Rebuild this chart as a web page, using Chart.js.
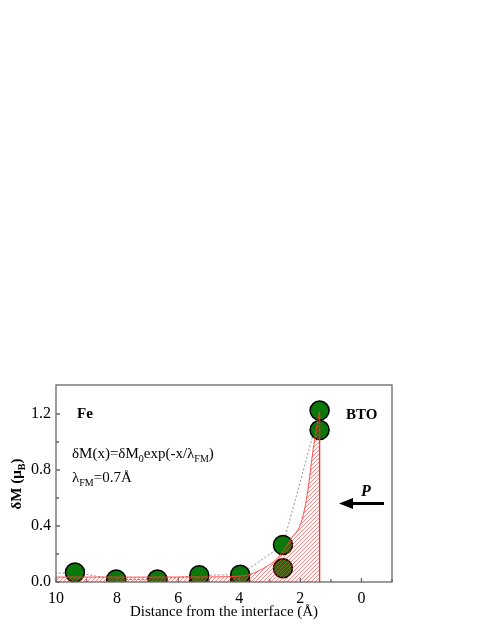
<!DOCTYPE html>
<html>
<head>
<meta charset="utf-8">
<script src="https://cdn.jsdelivr.net/npm/chart.js@4.4.1/dist/chart.umd.min.js"></script>
<style>
  html, body { margin: 0; padding: 0; background: #fff; }
  #wrap { position: relative; width: 491px; height: 635px; }
</style>
</head>
<body>
<div id="wrap"><canvas id="dmChart" width="491" height="635"></canvas></div>
<script>
// data (distance in Angstrom, dM in muB)
const upperDist = [10.7, 9.38, 8.03, 6.68, 5.31, 3.97, 2.57, 1.37];
const upperDM   = [0.056, 0.068, 0.018, 0.018, 0.048, 0.052, 0.264, 1.224];
const lowerDist = [5.31, 3.97, 2.57, 1.37];
const lowerDM   = [0.013, 0.012, 0.098, 1.086];
// red exponential fit (hatched area), listed left to right on the page
const fitDist = [10.5, 7.0, 5.0, 4.0, 3.64, 3.2, 3.0, 2.75, 2.5, 2.27, 2.0, 1.8, 1.585, 1.48, 1.37];
const fitDM   = [0.035, 0.035, 0.036, 0.042, 0.055, 0.098, 0.125, 0.17, 0.24, 0.32, 0.41, 0.59, 0.94, 1.09, 1.216];
const edgeDist = [1.37, 1.37];
const edgeDM   = [0, 1.216];
const xTicks = [10, 8, 6, 4, 2, 0];
const yTicks = [0, 0.4, 0.8, 1.2];

function pts(xs, ys) {
    return xs.map(function(x, i) { return { x: x, y: ys[i] }; });
}

const serif = "'Liberation Serif', 'Times New Roman', serif";

function drawSub(ctx, parts, x, y, size, weight) {
    // parts: [text, isSub]
    parts.forEach(function(p) {
        const sub = p[1];
        ctx.font = weight + ' ' + (sub ? Math.round(size * 0.65) : size) + 'px ' + serif;
        ctx.fillText(p[0], x, y + (sub ? size * 0.28 : 0));
        x += ctx.measureText(p[0]).width;
    });
    return x;
}

// hatch the area under the fit curve, on top of the circles
const hatchPlugin = {
    id: 'hatch',
    afterDatasetsDraw: function(chart) {
        const ctx = chart.ctx;
        const a = chart.chartArea;
        const meta = chart.getDatasetMeta(0);
        const line = meta.dataset;
        const p = meta.data;
        const y0 = chart.scales.y.getPixelForValue(0);
        ctx.save();
        ctx.beginPath();
        ctx.rect(a.left, a.top, a.right - a.left, a.bottom - a.top);
        ctx.clip();
        ctx.beginPath();
        line.path(ctx);
        ctx.lineTo(p[p.length - 1].x, y0);
        ctx.lineTo(p[0].x, y0);
        ctx.closePath();
        ctx.clip();
        ctx.strokeStyle = 'rgba(238,70,70,0.8)';
        ctx.lineWidth = 0.8;
        ctx.beginPath();
        const h = a.bottom - a.top;
        for (let x = a.left - h; x < a.right + 4; x += 4) {
            ctx.moveTo(x, a.bottom);
            ctx.lineTo(x + h, a.top);
        }
        ctx.stroke();
        ctx.restore();
    }
};

const decorPlugin = {
    id: 'decor',
    afterDraw: function(chart) {
        const ctx = chart.ctx;
        const a = chart.chartArea;
        const xs = chart.scales.x, ys = chart.scales.y;
        ctx.save();
        // frame
        ctx.strokeStyle = '#666';
        ctx.lineWidth = 1.3;
        ctx.strokeRect(a.left, a.top, a.right - a.left, a.bottom - a.top);
        // inward ticks
        ctx.beginPath();
        for (let v = -1; v <= 10; v++) {
            const px = xs.getPixelForValue(v);
            ctx.moveTo(px, a.bottom);
            ctx.lineTo(px, a.bottom - (v % 2 === 0 ? 4 : 3));
        }
        for (let k = 0; k <= 6; k++) {
            const py = ys.getPixelForValue(k * 0.2);
            ctx.moveTo(a.left, py);
            ctx.lineTo(a.left + (k % 2 === 0 ? 4 : 3), py);
        }
        ctx.stroke();

        ctx.fillStyle = '#000';
        ctx.textBaseline = 'alphabetic';
        ctx.textAlign = 'left';
        ctx.font = 'bold 15px ' + serif;
        ctx.fillText('Fe', 77, 418);
        ctx.fillText('BTO', 346, 419);

        drawSub(ctx, [['\u03b4M(x)=\u03b4M', false], ['0', true], ['exp(-x/\u03bb', false], ['FM', true], [')', false]], 72, 458, 15, 'normal');
        drawSub(ctx, [['\u03bb', false], ['FM', true], ['=0.7\u00c5', false]], 72, 482, 15, 'normal');

        // P arrow
        ctx.font = 'italic bold 16px ' + serif;
        ctx.fillText('P', 361, 496);
        ctx.strokeStyle = '#000';
        ctx.lineWidth = 3;
        ctx.beginPath();
        ctx.moveTo(384, 503.5);
        ctx.lineTo(350, 503.5);
        ctx.stroke();
        ctx.beginPath();
        ctx.moveTo(339, 503.5);
        ctx.lineTo(353, 498);
        ctx.lineTo(353, 509);
        ctx.closePath();
        ctx.fill();

        // axis titles
        ctx.textAlign = 'center';
        ctx.font = '15px ' + serif;
        ctx.fillText('Distance from the interface (\u00c5)', (a.left + a.right) / 2, 616);

        ctx.translate(21, 484);
        ctx.rotate(-Math.PI / 2);
        ctx.textAlign = 'left';
        const parts = [['\u03b4M (\u03bc', false], ['B', true], [')', false]];
        let w = 0;
        parts.forEach(function(p) {
            ctx.font = 'bold ' + (p[1] ? 10 : 15) + 'px ' + serif;
            w += ctx.measureText(p[0]).width;
        });
        drawSub(ctx, parts, -w / 2, 0, 15, 'bold');
        ctx.restore();
    }
};

new Chart(document.getElementById('dmChart').getContext('2d'), {
    type: 'scatter',
    data: {
        datasets: [
            {
                label: 'fit',
                type: 'line',
                data: pts(fitDist, fitDM),
                borderColor: 'rgba(255,60,60,0.9)',
                borderWidth: 1,
                fill: false,
                cubicInterpolationMode: 'monotone',
                pointRadius: 0,
                order: 0
            },
            {
                label: 'edge',
                type: 'line',
                data: pts(edgeDist, edgeDM),
                borderColor: 'rgba(230,40,40,0.95)',
                borderWidth: 1.3,
                pointRadius: 0,
                fill: false,
                order: 0
            },
            {
                label: 'guide',
                type: 'line',
                data: pts(upperDist, upperDM),
                borderColor: '#777',
                borderWidth: 0.8,
                borderDash: [2, 2],
                pointRadius: 0,
                fill: false,
                order: 2
            },
            {
                label: 'upper',
                data: pts(upperDist, upperDM),
                backgroundColor: '#0a780a',
                borderColor: '#000',
                borderWidth: 1.5,
                pointRadius: 9.5,
                clip: 0,
                order: 1
            },
            {
                label: 'lower',
                data: pts(lowerDist, lowerDM),
                backgroundColor: '#0a780a',
                borderColor: '#000',
                borderWidth: 1.5,
                pointRadius: 9.5,
                clip: 0,
                order: 1
            }
        ]
    },
    options: {
        responsive: false,
        animation: false,
        layout: { padding: { top: 385, right: 99, left: 0, bottom: 0 } },
        plugins: { legend: { display: false }, tooltip: { enabled: false } },
        scales: {
            x: {
                type: 'linear',
                reverse: true,
                min: -1,
                max: 10,
                afterFit: function(s) { s.height = 53; },
                grid: { display: false, drawTicks: false },
                border: { display: false },
                ticks: {
                    stepSize: 1,
                    autoSkip: false,
                    maxRotation: 0,
                    padding: 7,
                    color: '#000',
                    font: { family: serif, size: 16 },
                    callback: function(v) { return xTicks.indexOf(v) >= 0 ? String(v) : ''; }
                }
            },
            y: {
                min: 0,
                max: 1.407,
                afterFit: function(s) { s.width = 56; },
                grid: { display: false, drawTicks: false },
                border: { display: false },
                ticks: {
                    stepSize: 0.2,
                    includeBounds: false,
                    padding: 5,
                    color: '#000',
                    font: { family: serif, size: 16 },
                    callback: function(v) {
                        const hit = yTicks.some(function(t) { return Math.abs(t - v) < 1e-6; });
                        return hit ? v.toFixed(1) : '';
                    }
                }
            }
        }
    },
    plugins: [hatchPlugin, decorPlugin]
});
</script>
</body>
</html>
